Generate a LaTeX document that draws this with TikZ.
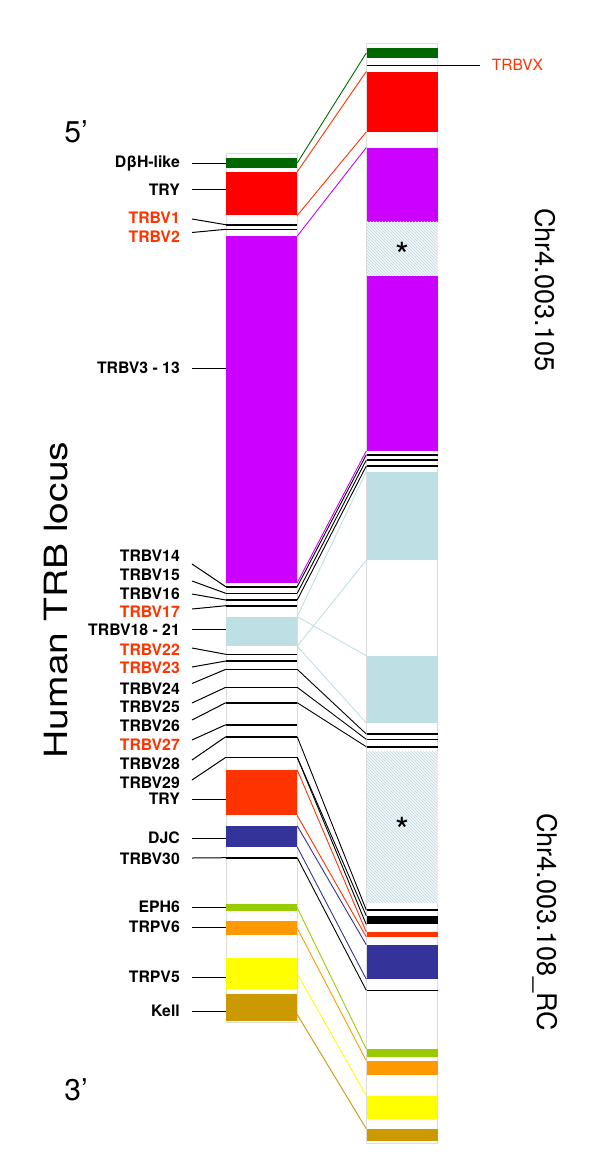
\documentclass[tikz,border=0pt]{standalone}
\usepackage{fontspec}
\setmainfont{TeX Gyre Heros}
\usetikzlibrary{positioning, calc, patterns}

\definecolor{dbhgreen}{RGB}{0,102,0}
\definecolor{tryred}{RGB}{255,0,0}
\definecolor{trbvpurple}{RGB}{204,0,255}
\definecolor{trbvblue}{RGB}{190,224,228}
\definecolor{tryorange}{RGB}{255,51,0}
\definecolor{djcblue}{RGB}{51,51,153}
\definecolor{ephgreen}{RGB}{153,204,0}
\definecolor{trpvorange}{RGB}{255,153,0}
\definecolor{trpvyellow}{RGB}{255,255,0}
\definecolor{kellgold}{RGB}{204,153,0}
\definecolor{pseudored}{RGB}{255,51,0}
\definecolor{gapfill}{RGB}{242,247,249}
\definecolor{gapline}{RGB}{192,216,224}
\definecolor{framegray}{RGB}{220,220,220}

\tikzset{
  column/.style={draw=framegray, line width=0.8pt, minimum width=71pt, inner sep=0pt},
  band/.style={rectangle, inner sep=0pt, minimum width=71pt},
  gline/.style={band, fill=black, minimum height=1.6pt},
  gap/.style={band, preaction={fill=gapfill}, pattern=north west lines, pattern color=gapline},
  gapmark/.style={inner sep=0pt, font=\fontsize{36}{36}\selectfont},
  lbl/.style={anchor=east, inner sep=0pt, text height=11pt, text depth=0pt, font=\fontsize{15.8}{15.8}\selectfont\bfseries},
  lead/.style={line width=1pt},
  link/.style={line width=0.9pt},
  big/.style={inner sep=0pt, font=\fontsize{27}{27}\selectfont}
}

\begin{document}
\begin{tikzpicture}[x=1pt, y=-1pt]

    \useasboundingbox (0,0) rectangle (600,1171);

    % frames of the two loci
    \node[column, minimum height=869pt] (colL) at (261.5,587.5) {};
    \node[column, minimum height=1099.7pt] (colR) at (402,593.15) {};

    % human TRB locus
    \node[band, fill=dbhgreen, minimum height=9.4pt] (dbhL) at (261.5,163) {};
    \node[band, fill=tryred, minimum height=43.3pt] (tryL) at (261.5,193.65) {};
    \node[gline] (v1L) at (261.5,224.7) {};
    \node[gline] (v2L) at (261.5,229.3) {};
    \node[band, fill=trbvpurple, minimum height=346.4pt] (v3L) at (261.5,409.5) {};
    \node[gline] (v14L) at (261.5,586.7) {};
    \node[gline] (v15L) at (261.5,593.3) {};
    \node[gline] (v16L) at (261.5,600) {};
    \node[gline] (v17L) at (261.5,605.7) {};
    \node[band, fill=trbvblue, minimum height=29.3pt] (v18L) at (261.5,631.35) {};
    \node[gline] (v22L) at (261.5,654.3) {};
    \node[gline] (v23L) at (261.5,661) {};
    \node[gline] (v24L) at (261.5,669.3) {};
    \node[gline] (v25L) at (261.5,687.3) {};
    \node[gline] (v26L) at (261.5,702.7) {};
    \node[gline] (v27L) at (261.5,724.7) {};
    \node[gline] (v28L) at (261.5,736.7) {};
    \node[gline] (v29L) at (261.5,757.3) {};
    \node[band, fill=tryorange, minimum height=45.3pt] (try2L) at (261.5,792.65) {};
    \node[band, fill=djcblue, minimum height=20.7pt] (djcL) at (261.5,836.35) {};
    \node[gline] (v30L) at (261.5,857.7) {};
    \node[band, fill=ephgreen, minimum height=6.7pt] (ephL) at (261.5,907.65) {};
    \node[band, fill=trpvorange, minimum height=14.3pt] (trpv6L) at (261.5,928.15) {};
    \node[band, fill=trpvyellow, minimum height=31.3pt] (trpv5L) at (261.5,973.65) {};
    \node[band, fill=kellgold, minimum height=26.4pt] (kellL) at (261.5,1007.5) {};

    % chicken contigs
    \node[band, fill=dbhgreen, minimum height=9.4pt] (dbhR) at (402,53) {};
    \node[gline] (vXR) at (402,65.3) {};
    \node[band, fill=tryred, minimum height=60pt] (tryR) at (402,101.7) {};
    \node[band, fill=trbvpurple, minimum height=74pt] (purR1) at (402,184.7) {};
    \node[gap, minimum height=54.3pt] (gapA) at (402,248.85) {};
    \node[band, fill=trbvpurple, minimum height=174.7pt] (purR2) at (402,363.35) {};
    \node[gline] (v14R) at (402,454.7) {};
    \node[gline] (v15R) at (402,460) {};
    \node[gline] (v16R) at (402,466) {};
    \node[band, fill=trbvblue, minimum height=88.3pt] (lbR1) at (402,515.85) {};
    \node[band, fill=trbvblue, minimum height=66.7pt] (lbR2) at (402,689.35) {};
    \node[gline] (v24R) at (402,734) {};
    \node[gline] (v25R) at (402,739.3) {};
    \node[gline] (v26R) at (402,746.7) {};
    \node[gap, minimum height=151pt] (gapB) at (402,827.2) {};
    \node[gline] (v28R) at (402,910) {};
    \node[band, fill=black, minimum height=8.3pt] (v29R) at (402,920.15) {};
    \node[band, fill=tryorange, minimum height=4.4pt] (try2R) at (402,934.5) {};
    \node[band, fill=djcblue, minimum height=34pt] (djcR) at (402,962) {};
    \node[gline] (v30R) at (402,990.3) {};
    \node[band, fill=ephgreen, minimum height=7.4pt] (ephR) at (402,1053) {};
    \node[band, fill=trpvorange, minimum height=14pt] (trpv6R) at (402,1068) {};
    \node[band, fill=trpvyellow, minimum height=23.3pt] (trpv5R) at (402,1107.65) {};
    \node[band, fill=kellgold, minimum height=11.7pt] (kellR) at (402,1134.85) {};

    \node[gapmark] (markA) at (402,255) {*};
    \node[gapmark] (markB) at (402,830) {*};

    % homology links
    \draw[link, dbhgreen] (dbhL.east) -- (dbhR.west);
    \draw[link, tryorange] (tryL.north east) -- (tryR.north west);
    \draw[link, tryorange] (tryL.south east) -- (tryR.south west);
    \draw[link, trbvpurple] (v3L.north east) -- (purR1.north west);
    \draw[link, trbvpurple] (v3L.south east) -- (purR2.south west);
    \draw[link] (v14L.east) -- (v14R.west);
    \draw[link] (v15L.east) -- (v15R.west);
    \draw[link] (v16L.east) -- (v16R.west);
    \draw[link, trbvblue] (v18L.north east) -- (lbR1.north west);
    \draw[link, trbvblue] (v18L.south east) -- (lbR1.south west);
    \draw[link, trbvblue] (v18L.north east) -- (lbR2.north west);
    \draw[link, trbvblue] (v18L.south east) -- (lbR2.south west);
    \draw[link] (v24L.east) -- (v24R.west);
    \draw[link] (v25L.east) -- (v25R.west);
    \draw[link] (v26L.east) -- (v26R.west);
    \draw[link] (v28L.east) -- (v28R.west);
    \draw[link] (v29L.east) -- (v29R.north west);
    \draw[link] (v29L.east) -- (v29R.south west);
    \draw[link, tryorange] (try2L.north east) -- (try2R.north west);
    \draw[link, tryorange] (try2L.south east) -- (try2R.south west);
    \draw[link, djcblue] (djcL.north east) -- (djcR.north west);
    \draw[link, djcblue] (djcL.south east) -- (djcR.south west);
    \draw[link] (v30L.east) -- (v30R.west);
    \draw[link, ephgreen] (ephL.east) -- (ephR.north west);
    \draw[link, trpvorange] (trpv6L.east) -- (trpv6R.north west);
    \draw[link, trpvyellow] (trpv5L.east) -- (trpv5R.north west);
    \draw[link, kellgold] ([yshift=-7pt]kellL.east) -- (kellR.north west);

    % gene labels
    \node[lbl] (lDbh) at (180,161.5) {DβH-like};
    \node[lbl] (lTry) at (180,189.5) {TRY};
    \node[lbl, text=pseudored] (lV1) at (180,218) {TRBV1};
    \node[lbl, text=pseudored] (lV2) at (180,236.5) {TRBV2};
    \node[lbl] (lV3) at (180,368) {TRBV3 - 13};
    \node[lbl] (lV14) at (180,556) {TRBV14};
    \node[lbl] (lV15) at (180,575) {TRBV15};
    \node[lbl] (lV16) at (180,594) {TRBV16};
    \node[lbl, text=pseudored] (lV17) at (180,612) {TRBV17};
    \node[lbl] (lV18) at (180,629.5) {TRBV18 - 21};
    \node[lbl, text=pseudored] (lV22) at (180,650) {TRBV22};
    \node[lbl, text=pseudored] (lV23) at (180,668) {TRBV23};
    \node[lbl] (lV24) at (180,688.5) {TRBV24};
    \node[lbl] (lV25) at (180,707) {TRBV25};
    \node[lbl] (lV26) at (180,725.5) {TRBV26};
    \node[lbl, text=pseudored] (lV27) at (180,744.5) {TRBV27};
    \node[lbl] (lV28) at (180,764) {TRBV28};
    \node[lbl] (lV29) at (180,783) {TRBV29};
    \node[lbl] (lTry2) at (180,799) {TRY};
    \node[lbl] (lDjc) at (180,838) {DJC};
    \node[lbl] (lV30) at (180,859) {TRBV30};
    \node[lbl] (lEph) at (180,907) {EPH6};
    \node[lbl] (lTrpv6) at (180,927) {TRPV6};
    \node[lbl] (lTrpv5) at (180,977) {TRPV5};
    \node[lbl] (lKell) at (180,1011) {Kell};

    \draw[lead] ([shift={(12,1.5)}]lDbh.east) -- (dbhL.west);
    \draw[lead] ([xshift=12pt]lTry.east) -- (lTry.east -| tryL.west);
    \draw[lead] ([shift={(12,1)}]lV1.east) -- (v1L.west);
    \draw[lead] ([shift={(12,-4)}]lV2.east) -- (v2L.west);
    \draw[lead] ([xshift=12pt]lV3.east) -- (lV3.east -| v3L.west);
    \draw[lead] ([shift={(12,8)}]lV14.east) -- (v14L.west);
    \draw[lead] ([shift={(12,6)}]lV15.east) -- (v15L.west);
    \draw[lead] ([xshift=12pt]lV16.east) -- (v16L.west);
    \draw[lead] ([shift={(12,-3)}]lV17.east) -- (v17L.west);
    \draw[lead] ([xshift=12pt]lV18.east) -- (lV18.east -| v18L.west);
    \draw[lead] ([shift={(12,-2)}]lV22.east) -- (v22L.west);
    \draw[lead] ([shift={(12,-1)}]lV23.east) -- (v23L.west);
    \draw[lead] ([shift={(12,-5)}]lV24.east) -- (v24L.west);
    \draw[lead] ([shift={(12,-4)}]lV25.east) -- (v25L.west);
    \draw[lead] ([shift={(12,-5.5)}]lV26.east) -- (v26L.west);
    \draw[lead] ([shift={(12,-4.5)}]lV27.east) -- (v27L.west);
    \draw[lead] ([shift={(12,-4)}]lV28.east) -- (v28L.west);
    \draw[lead] ([shift={(12,-3)}]lV29.east) -- (v29L.west);
    \draw[lead] ([xshift=12pt]lTry2.east) -- (lTry2.east -| try2L.west);
    \draw[lead] ([xshift=12pt]lDjc.east) -- (lDjc.east -| djcL.west);
    \draw[lead] ([shift={(12,-1)}]lV30.east) -- (v30L.west);
    \draw[lead] ([xshift=12pt]lEph.east) -- (lEph.east -| ephL.west);
    \draw[lead] ([xshift=12pt]lTrpv6.east) -- (lTrpv6.east -| trpv6L.west);
    \draw[lead] ([xshift=12pt]lTrpv5.east) -- (lTrpv5.east -| trpv5L.west);
    \draw[lead] ([xshift=12pt]lKell.east) -- (lKell.east -| kellL.west);

    \node[lbl, anchor=west, font=\fontsize{15.5}{15.5}\selectfont, text=pseudored] (lVX) at (491.7,65.3) {TRBVX};
    \draw[lead] (vXR.east) -- ([xshift=-12pt]lVX.west);

    % titles
    \node[big, font=\fontsize{30}{30}\selectfont] (five) at (76,132) {5’};
    \node[big, font=\fontsize{30}{30}\selectfont] (three) at (76,1090) {3’};
    \node[big, rotate=90, xscale=1.22, font=\fontsize{32}{32}\selectfont] (locus) at (56,600) {Human TRB locus};
    \node[big, rotate=-90] (chrA) at (545,290) {Chr4.003.105};
    \node[big, rotate=-90] (chrB) at (545,922) {Chr4.003.108\_RC};

\end{tikzpicture}
\end{document}
